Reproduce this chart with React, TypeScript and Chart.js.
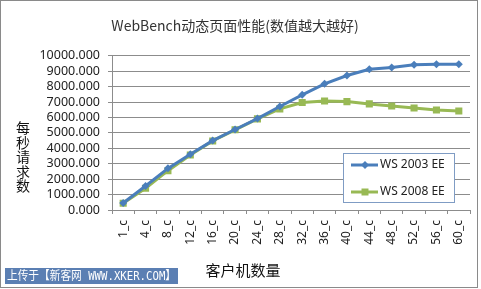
import React, { useEffect, useRef } from 'react';
import { Chart, registerables } from 'chart.js';

Chart.register(...registerables);

const clients = ['1_c', '4_c', '8_c', '12_c', '16_c', '20_c', '24_c', '28_c', '32_c', '36_c', '40_c', '44_c', '48_c', '52_c', '56_c', '60_c'];
const ws2003 = [450, 1560, 2700, 3620, 4500, 5220, 5930, 6710, 7470, 8180, 8720, 9130, 9240, 9420, 9460, 9460];
const ws2008 = [440, 1410, 2550, 3570, 4480, 5200, 5910, 6560, 6970, 7070, 7030, 6880, 6750, 6620, 6490, 6420];
const seriesNames = ['WS 2003 EE', 'WS 2008 EE'];
const yMin = 0;
const yMax = 10000;
const yStep = 1000;
const chartTitle = 'WebBench动态页面性能(数值越大越好)';
const yTitleChars = ['每', '秒', '请', '求', '数'];
const xTitle = '客户机数量';
const uploadNote = '上传于【新客网 WWW.XKER.COM】';

const BLUE = '#4A7EBB';
const GREEN = '#98B954';
const GRID = '#8c8c8c';
const CJK = '"Noto Sans CJK SC", "Noto Sans", sans-serif';
const LATIN = '"Noto Sans", "Noto Sans CJK SC", sans-serif';

const decorations = {
  id: 'decorations',
  beforeDraw(chart: any) {
    const { ctx, width, height } = chart;
    ctx.save();
    ctx.fillStyle = '#ffffff';
    ctx.fillRect(0, 0, width, height);
    ctx.strokeStyle = '#8a8a8a';
    ctx.lineWidth = 1;
    ctx.strokeRect(0.5, 0.5, 477, 287);
    ctx.restore();
  },
  afterDraw(chart: any) {
    const { ctx } = chart;
    ctx.save();
    // y title stacked
    ctx.fillStyle = '#111';
    ctx.font = `14px ${CJK}`;
    ctx.textAlign = 'center';
    ctx.textBaseline = 'middle';
    yTitleChars.forEach((c, i) => ctx.fillText(c, 23, 128 + i * 14.4));
    // x title
    ctx.font = `15px ${CJK}`;
    ctx.fillText(xTitle, 243, 270);

    // legend
    const lx = 343, ly = 153, lw = 111, lh = 49;
    ctx.fillStyle = '#ffffff';
    ctx.fillRect(lx, ly, lw, lh);
    ctx.strokeStyle = '#7f9cc4';
    ctx.lineWidth = 1;
    ctx.strokeRect(lx + 0.5, ly + 0.5, lw, lh);
    const entries = [
      { name: seriesNames[0], color: BLUE, y: 165, shape: 'diamond' },
      { name: seriesNames[1], color: GREEN, y: 192, shape: 'square' },
    ];
    entries.forEach((e) => {
      ctx.strokeStyle = e.color;
      ctx.lineWidth = 3;
      ctx.beginPath();
      ctx.moveTo(351, e.y);
      ctx.lineTo(378, e.y);
      ctx.stroke();
      ctx.fillStyle = e.color;
      ctx.beginPath();
      if (e.shape === 'diamond') {
        ctx.moveTo(365, e.y - 4);
        ctx.lineTo(369, e.y);
        ctx.lineTo(365, e.y + 4);
        ctx.lineTo(361, e.y);
        ctx.closePath();
      } else {
        ctx.rect(361.5, e.y - 3.5, 7, 7);
      }
      ctx.fill();
      ctx.fillStyle = '#222';
      ctx.font = `12px ${LATIN}`;
      ctx.textAlign = 'left';
      ctx.textBaseline = 'middle';
      ctx.fillText(e.name, 380, e.y);
    });

    // upload note
    ctx.font = `12px "DejaVu Sans Mono", ${CJK}`;
    ctx.fillStyle = '#5b7fb3';
    ctx.fillRect(5, 268, 173, 16);
    ctx.fillStyle = '#ffffff';
    ctx.textAlign = 'left';
    ctx.textBaseline = 'middle';
    ctx.fillText(uploadNote, 7, 276.5, 169);
    ctx.restore();
  },
};

export default function App() {
  const ref = useRef<HTMLCanvasElement | null>(null);
  useEffect(() => {
    if (!ref.current) return;
    const chart = new Chart(ref.current, {
      type: 'line',
      data: {
        labels: clients,
        datasets: [
          {
            label: seriesNames[0],
            data: ws2003,
            borderColor: BLUE,
            backgroundColor: BLUE,
            borderWidth: 3,
            pointStyle: 'rectRot',
            pointRadius: 4,
            pointBorderWidth: 0,
            tension: 0,
          },
          {
            label: seriesNames[1],
            data: ws2008,
            borderColor: GREEN,
            backgroundColor: GREEN,
            borderWidth: 3,
            pointStyle: 'rect',
            pointRadius: 5,
            pointBorderWidth: 0,
            tension: 0,
          },
        ],
      },
      options: {
        responsive: false,
        animation: false,
        layout: { padding: { left: 0, right: 11, top: 0, bottom: 0 } },
        plugins: {
          legend: { display: false },
          tooltip: { enabled: false },
          title: {
            display: true,
            text: chartTitle,
            color: '#333',
            font: { size: 14, weight: 'normal', family: CJK },
            padding: { top: 17, bottom: 22 },
          },
        },
        scales: {
          x: {
            offset: true,
            afterFit: (s: any) => { s.height = 79; },
            grid: {
              offset: true,
              drawOnChartArea: false,
              drawTicks: true,
              tickLength: 4,
              color: GRID,
            },
            border: { color: GRID },
            ticks: {
              minRotation: 90,
              maxRotation: 90,
              autoSkip: false,
              padding: 6,
              color: '#222',
              font: { size: 12, family: LATIN },
            },
          },
          y: {
            min: yMin,
            max: yMax,
            afterFit: (s: any) => { s.width = 112; },
            grid: { color: GRID, tickLength: 4 },
            border: { color: GRID },
            ticks: {
              stepSize: yStep,
              autoSkip: false,
              padding: 8,
              color: '#222',
              font: { size: 12.5, family: LATIN },
              callback: (v: any) => Number(v).toFixed(3),
            },
          },
        },
      },
      plugins: [decorations],
    });
    return () => chart.destroy();
  }, []);
  return (
    <div style={{ position: 'fixed', left: 0, top: 0, width: 481, height: 289, background: '#fff' }}>
      <canvas ref={ref} width={481} height={289} style={{ width: 481, height: 289 }} />
    </div>
  );
}
